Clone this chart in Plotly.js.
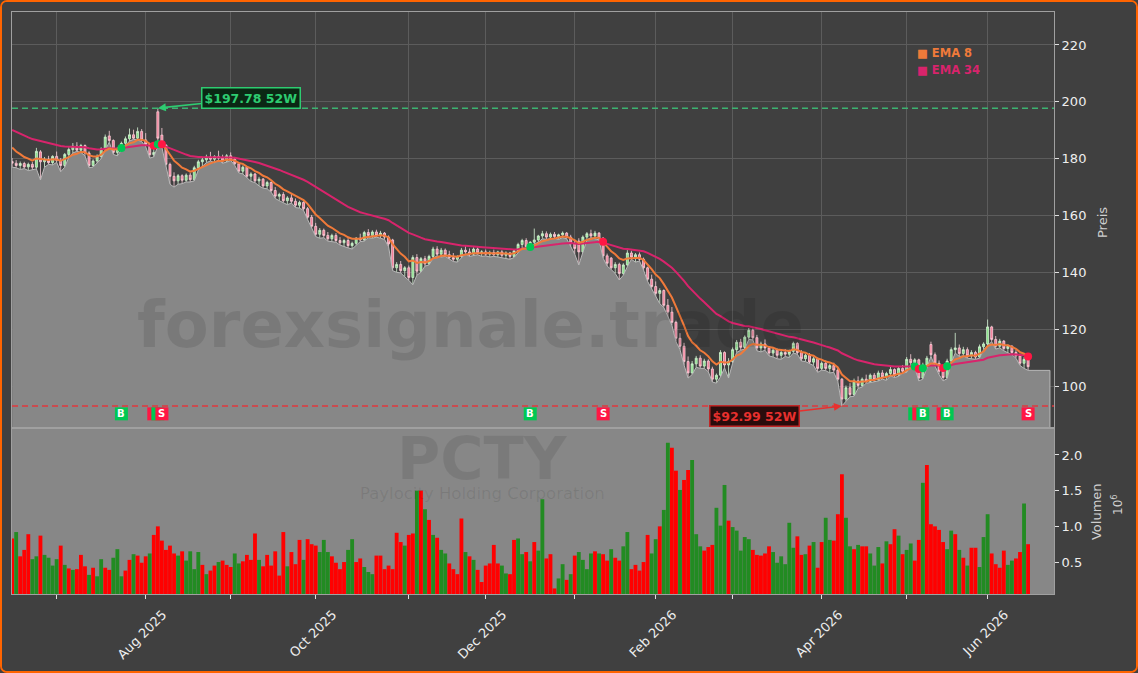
<!DOCTYPE html>
<html><head><meta charset="utf-8">
<script src="https://cdn.plot.ly/plotly-3.0.1.min.js"></script>
<style>
html,body{margin:0;padding:0;background:#404040;}
#wrap{width:1138px;height:673px;box-sizing:border-box;border:2px solid #ff6400;border-radius:7px;overflow:hidden;background:#404040;}
#chart{width:1134px;height:669px;}
</style></head><body><div id="wrap"><div id="chart"></div></div>
<script>
// ---- data (trading-day index 0 = 2025-06-13 ... 251 = 2026-06-15) ----
const open = [
179.0,178.4,177.6,178.3,177.1,178.0,177.0,182.4,178.9,179.8,
178.6,180.8,179.4,177.6,181.5,183.2,184.4,183.0,184.6,182.0,
177.6,179.2,180.8,183.4,188.0,186.4,182.2,183.6,185.4,187.0,
188.4,187.2,189.6,186.6,185.0,181.4,196.5,188.3,184.8,178.0,
173.8,172.2,174.0,172.4,174.2,172.6,176.8,178.9,179.6,180.6,
179.8,180.8,180.2,179.2,181.0,179.8,178.2,175.6,177.0,173.8,
174.6,172.2,172.8,170.4,171.6,168.8,166.8,167.4,165.2,166.2,
165.0,163.6,164.6,162.4,159.4,156.2,153.4,154.8,153.0,151.8,
153.0,151.2,150.4,151.2,149.4,150.2,152.0,151.4,154.0,153.0,
154.2,153.0,153.8,152.4,151.4,141.6,142.8,140.6,141.6,138.2,
145.2,140.4,144.8,143.0,145.6,148.2,146.4,147.8,146.2,145.2,
144.6,145.6,147.8,147.2,146.4,148.2,146.8,147.2,146.4,147.0,
146.2,147.2,146.0,146.8,145.6,147.6,149.8,151.2,149.0,150.6,
151.4,152.8,153.6,152.4,153.4,152.6,153.2,153.8,152.4,150.2,
151.0,147.2,152.4,153.6,152.8,153.8,152.0,145.8,145.0,141.6,
142.8,139.6,142.6,146.8,145.4,146.2,144.6,141.6,137.6,135.0,
132.6,133.6,128.4,126.0,122.4,116.8,114.0,108.6,104.6,107.8,
109.8,107.0,108.8,106.0,102.4,103.8,111.8,107.4,108.6,112.8,
115.4,113.6,117.2,119.6,117.0,113.4,114.8,113.4,111.6,112.6,
110.8,111.8,111.2,112.2,115.0,111.8,109.6,110.8,108.4,109.6,
106.2,108.0,106.2,107.2,105.6,102.4,95.4,99.4,97.0,101.8,
100.2,102.4,101.6,103.8,102.2,104.6,103.2,104.4,105.8,104.0,
106.2,105.2,109.4,108.2,109.2,102.8,107.4,114.6,111.0,108.0,
105.2,103.0,108.8,112.8,113.4,111.4,112.8,110.6,111.8,110.2,
113.8,114.8,120.8,116.4,114.0,115.8,113.2,114.0,111.8,110.6,
108.0,109.4];
const high = [
180.2,179.5,179.0,178.9,178.6,178.8,183.8,183.0,180.6,181.0,
181.2,182.5,180.2,182.0,184.0,185.5,185.8,185.2,185.0,182.6,
179.8,181.5,184.0,188.5,189.8,186.8,184.0,186.0,187.8,190.6,
190.2,191.0,190.4,189.0,185.6,183.6,197.78,190.8,185.0,178.6,
175.2,174.6,174.5,174.8,175.0,177.5,179.6,180.6,181.4,182.4,
181.2,182.8,181.4,181.6,182.2,180.6,178.8,177.6,177.4,175.2,
175.0,173.6,173.2,172.2,172.0,170.0,168.0,168.2,166.8,167.8,
166.0,165.2,165.0,163.0,160.2,157.4,155.6,155.4,154.2,153.6,
153.8,152.4,151.8,152.0,150.8,152.4,153.6,154.6,155.2,154.8,
155.0,154.6,154.2,153.0,151.8,143.6,144.0,142.2,142.4,146.0,
146.4,145.4,145.8,146.2,149.0,149.2,148.6,148.4,147.6,146.8,
146.0,148.6,149.2,148.4,148.8,148.8,147.8,148.0,147.6,148.0,
147.6,147.8,147.4,147.2,148.2,150.4,151.8,152.0,151.0,155.4,
153.2,154.6,154.4,154.0,154.2,153.6,154.4,154.2,153.2,151.6,
152.0,153.0,154.2,155.0,154.6,154.2,152.4,146.6,145.4,143.6,
143.4,143.2,147.8,147.6,146.8,147.0,145.2,142.0,139.2,136.8,
134.4,134.0,130.6,127.8,123.0,118.6,115.2,110.4,108.8,110.6,
110.8,109.6,109.4,106.8,104.4,112.6,112.2,109.8,113.6,116.2,
116.6,117.8,120.4,120.2,118.0,115.6,116.4,114.0,113.4,113.2,
112.6,113.0,112.8,115.6,115.4,112.6,111.4,111.6,110.2,110.0,
108.6,109.0,107.8,108.2,106.4,102.8,100.2,101.0,102.6,103.4,
103.0,104.0,104.4,104.6,105.4,105.6,105.0,106.8,106.2,106.8,
107.4,110.2,111.2,109.8,109.6,108.2,110.6,115.6,111.8,109.0,
106.2,109.6,113.6,118.7,114.6,113.8,113.6,112.6,112.4,114.6,
115.4,123.4,121.2,117.6,116.6,116.2,114.6,114.4,112.6,111.4,
110.2,109.8];
const low = [
177.0,176.8,176.2,176.5,175.8,176.0,176.4,172.5,177.0,178.0,
177.8,178.7,175.4,177.0,180.5,182.0,182.6,182.2,181.0,176.8,
177.0,178.5,180.0,183.0,185.8,181.5,181.0,183.0,184.8,186.2,
186.8,186.6,186.0,184.2,180.2,180.6,184.5,184.0,177.5,171.0,
170.0,171.0,171.2,171.8,171.8,172.2,176.0,177.2,178.6,179.2,
178.6,179.6,178.4,178.8,179.4,177.6,175.0,174.6,173.2,172.0,
171.6,170.4,169.6,169.4,168.2,166.0,165.2,164.6,163.8,164.4,
162.8,162.6,161.8,158.6,155.4,152.6,152.0,152.2,151.0,150.8,
150.6,149.6,149.0,148.6,148.2,149.4,150.8,151.0,152.2,152.0,
152.4,152.0,151.6,149.0,140.6,140.0,139.8,138.4,137.2,135.6,
139.0,140.0,142.2,142.6,145.0,145.8,145.4,145.6,144.6,143.8,
143.6,145.0,146.6,145.6,146.0,146.2,145.6,145.8,145.4,145.6,
145.4,145.2,145.0,144.6,145.2,147.0,148.6,148.4,148.2,150.0,
150.6,151.8,151.6,151.8,152.0,151.6,152.2,151.8,149.0,146.4,
142.6,146.8,151.4,152.2,151.8,151.4,145.0,142.2,141.0,139.6,
137.3,139.0,142.0,144.6,143.6,144.0,140.8,136.8,134.2,131.4,
129.0,127.6,124.2,121.4,115.6,112.8,107.4,102.8,104.0,106.6,
106.2,106.2,105.0,101.4,101.0,103.2,106.4,102.8,108.0,111.8,
112.6,113.0,116.4,116.2,112.4,112.0,112.6,110.6,110.2,109.6,
109.4,110.4,110.0,111.6,111.2,108.8,108.6,107.8,107.2,104.8,
105.6,105.4,104.6,104.8,101.6,92.99,94.6,96.2,96.4,99.2,
99.6,101.0,101.2,101.4,101.8,102.4,102.0,103.6,103.0,103.4,
104.6,104.8,107.6,106.6,101.8,102.4,106.8,110.4,107.0,104.0,
101.8,102.6,108.2,111.6,110.4,110.6,109.8,109.6,109.4,109.8,
112.8,114.2,115.6,113.0,113.4,112.4,111.6,111.0,109.8,107.2,
106.2,105.5];
const close = [
178.4,177.6,178.3,177.1,178.0,177.0,182.6,178.9,179.8,178.6,
180.8,179.4,177.6,181.5,183.2,184.4,183.0,184.6,182.0,177.6,
179.2,180.8,183.4,187.6,186.4,182.2,183.6,185.4,187.0,188.4,
187.2,189.6,186.6,185.0,181.4,182.2,187.2,184.8,178.0,173.8,
172.2,174.0,172.4,174.2,172.6,176.8,178.9,179.6,180.6,179.8,
180.8,180.2,179.2,181.0,179.8,178.2,175.6,177.0,173.8,174.6,
172.2,172.8,170.4,171.6,168.8,166.8,167.4,165.2,166.2,165.0,
163.6,164.6,162.4,159.4,156.2,153.4,154.8,153.0,151.8,153.0,
151.2,150.4,151.2,149.4,150.2,152.0,151.4,154.0,153.0,154.2,
153.0,153.8,152.4,150.0,141.6,142.8,140.6,141.6,138.2,145.2,
140.4,144.8,143.0,145.6,148.2,146.4,147.8,146.2,145.2,144.6,
145.6,147.8,147.2,146.4,148.2,146.8,147.2,146.4,147.0,146.2,
147.2,146.0,146.8,145.6,147.6,149.8,151.2,149.0,150.6,151.4,
152.8,153.6,152.4,153.4,152.6,153.2,153.8,152.4,150.2,148.4,
147.2,152.4,153.6,152.8,153.8,152.0,145.8,143.2,141.6,142.8,
139.6,142.6,146.8,145.4,146.2,144.6,141.6,137.6,135.0,132.6,
133.6,128.4,126.0,122.4,116.8,114.0,108.6,104.6,107.8,109.8,
107.0,108.8,106.0,102.4,103.8,111.8,107.4,108.6,112.8,115.4,
113.6,117.2,119.6,117.0,113.4,114.8,113.4,111.6,112.6,110.8,
111.8,111.2,112.2,115.0,111.8,109.6,110.8,108.4,109.6,106.2,
108.0,106.2,107.2,105.6,102.4,95.4,99.4,97.0,101.8,100.2,
102.4,101.6,103.8,102.2,104.6,103.2,104.4,105.8,104.0,106.2,
105.2,109.4,108.2,109.2,102.8,107.4,109.8,111.0,108.0,105.2,
103.0,108.8,112.8,113.4,111.4,112.8,110.6,111.8,110.2,113.8,
114.8,120.8,116.4,114.0,115.8,113.2,114.0,111.8,110.6,108.0,
109.4,106.8];
// volume in millions
const volume = [
0.83,0.92,0.58,0.67,0.89,0.54,0.58,0.87,0.60,0.56,
0.45,0.54,0.73,0.46,0.41,0.39,0.40,0.60,0.44,0.32,
0.42,0.30,0.54,0.42,0.39,0.56,0.68,0.30,0.38,0.53,
0.61,0.59,0.49,0.58,0.62,0.88,1.00,0.80,0.67,0.73,
0.62,0.59,0.65,0.52,0.65,0.40,0.64,0.46,0.33,0.38,
0.45,0.50,0.52,0.46,0.43,0.62,0.48,0.51,0.60,0.53,
0.90,0.53,0.44,0.60,0.45,0.65,0.31,0.92,0.44,0.64,
0.47,0.81,0.53,0.82,0.75,0.73,0.64,0.81,0.64,0.58,
0.49,0.40,0.50,0.67,0.82,0.50,0.55,0.43,0.36,0.33,
0.59,0.59,0.40,0.45,0.40,0.91,0.78,0.73,0.88,0.90,
1.50,1.50,1.24,1.09,0.88,0.84,0.67,0.62,0.48,0.40,
0.33,1.11,0.64,0.58,0.53,0.39,0.22,0.45,0.48,0.74,
0.48,0.45,0.34,0.33,0.81,0.83,0.61,0.64,0.51,0.78,
0.66,1.38,0.55,0.61,0.13,0.27,0.47,0.25,0.33,0.59,
0.64,0.53,0.40,0.62,0.65,0.62,0.61,0.52,0.68,0.56,
0.52,0.72,0.92,0.40,0.46,0.38,0.50,0.88,0.62,0.82,
1.00,1.23,2.17,2.10,1.78,1.51,1.65,1.79,1.93,0.89,
0.72,0.66,0.71,0.74,1.26,1.01,1.58,1.08,0.99,0.94,
0.66,0.85,0.82,0.67,0.60,0.59,0.62,0.72,0.64,0.49,
0.58,0.47,1.05,0.70,0.86,0.60,0.61,0.73,0.78,0.42,
0.78,1.12,0.81,0.80,1.17,1.73,1.12,0.72,0.68,0.74,
0.72,0.72,0.62,0.45,0.71,0.48,0.79,0.75,0.96,0.87,
0.61,0.67,0.76,0.52,0.81,1.61,1.86,1.03,1.00,0.95,
0.78,0.68,0.94,0.89,0.67,0.56,0.45,0.70,0.70,0.43,
0.85,1.17,0.62,0.47,0.42,0.66,0.46,0.52,0.55,0.64,
1.32,0.75];
// volume bar direction as drawn (G = up, R = down)
const volumeDir =
"RGRRRGGRGG"+"GGRGRGRRRG"+"RGGRRGGGRR"+"GRRRGRRRRR"+"RGRGGGGRGR"+
"RGRRRGGRRR"+"RGRRRRRRGR"+"RRGRRRGGGR"+"RRRGGRRGGG"+"RRRRRRRGRR"+
"GRGRGRGGRR"+"RRGRGRRRRR"+"RGGRRGGRGR"+"GGRRRGGRGR"+"GGGGRGRRGR"+
"RGGRRRRRGG"+"RGGRRGRRGG"+"GRRRGGGRGG"+"GGGRRRRRGG"+"GGGGRRGRGR"+
"RGGRRRGGRG"+"RRGGGRGRRG"+"RGGRRGRRRR"+"RGGRGRGRRG"+"GGRRRRGGRR"+"GR";

const monthTickIdx = [11,33,54,75,98,117,139,159,178,200,221,241];
const monthTickText = ['','Aug 2025','','Oct 2025','','Dec 2025','','Feb 2026','','Apr 2026','','Jun 2026'];

const signalIdx  = [27,35,36,37,128,146,223,224,225,230,231,251];
const signalType = ['B','S','B','S','B','S','B','S','B','S','B','S'];
const signalLevel = 90.2;

const ema8Seed = 185.5, ema34Seed = 190.8;   // EMA values entering the window
const ticker = 'PCTY', company = 'Paylocity Holding Corporation', watermark = 'forexsignale.trade';

// ---- derived ----
const N = close.length;
const idx = close.map((_, i) => i);
function ema(src, period, seed){ const a = 2/(period+1); let p = seed; return src.map(v => (p = a*v + (1-a)*p)); }
const ema8 = ema(close, 8, ema8Seed);
const ema34 = ema(close, 34, ema34Seed);
const hi52 = Math.max(...high), lo52 = Math.min(...low);
const hiIdx = high.indexOf(hi52), loIdx = low.indexOf(lo52);

const GREEN = '#00c853', RED = '#ff1744';
const fillExt = 5.4;
const xRange = [-0.03, 257.4];
// a signal box is covered by the next one when they are closer than 3 bars
const labelShown = signalIdx.map((v, k) => k === signalIdx.length - 1 || signalIdx[k+1] - v >= 3);

const traces = [
  { type:'scatter', mode:'lines', x: idx.concat([N-1+fillExt, N-1+fillExt]), y: low.concat([low[N-1], 0]),
    fill:'tozeroy', fillcolor:'#878787', line:{color:'#b9b9b9', width:1}, xaxis:'x', yaxis:'y', hoverinfo:'skip' },
  { type:'candlestick', x: idx, open, high, low, close, xaxis:'x', yaxis:'y',
    increasing:{line:{color:'#d5f5d5', width:0.8}, fillcolor:'#86e486'},
    decreasing:{line:{color:'#ffd2dc', width:0.8}, fillcolor:'#f27a96'},
    whiskerwidth:0, hoverinfo:'skip' },
  { type:'scatter', mode:'lines', x: idx, y: ema34, line:{color:'#d8246c', width:2}, xaxis:'x', yaxis:'y', hoverinfo:'skip' },
  { type:'scatter', mode:'lines', x: idx, y: ema8, line:{color:'#f07a3a', width:2}, xaxis:'x', yaxis:'y', hoverinfo:'skip' },
  { type:'scatter', mode:'markers', x: signalIdx, y: signalIdx.map(i => ema8[i]),
    marker:{size:8, color: signalType.map(t => t==='B'?GREEN:RED)}, xaxis:'x', yaxis:'y', hoverinfo:'skip' },
  { type:'scatter', mode:'markers', x: signalIdx, y: signalIdx.map(() => signalLevel),
    marker:{symbol:'square', size:13, color: signalType.map(t => t==='B'?GREEN:RED), line:{width:0}},
    xaxis:'x', yaxis:'y', hoverinfo:'skip' },
  { type:'bar', x: idx, y: volume, width:0.95, marker:{color: idx.map(i => volumeDir[i]==='G' ? '#228b22' : '#ff0000'), line:{width:0}},
    xaxis:'x2', yaxis:'y2', hoverinfo:'skip' }
];

const annotations = [
  { xref:'paper', yref:'paper', x:0.440, y:0.462, text:'<b>'+watermark+'</b>', showarrow:false,
    font:{family:'DejaVu Sans', size:64, color:'rgba(0,0,0,0.10)'}, xanchor:'center', yanchor:'middle' },
  { xref:'paper', yref:'paper', x:0.452, y:0.232, text:'<b>'+ticker+'</b>', showarrow:false,
    font:{family:'DejaVu Sans', size:59, color:'rgba(0,0,0,0.09)'}, xanchor:'center', yanchor:'middle' },
  { xref:'paper', yref:'paper', x:0.452, y:0.172, text:company, showarrow:false,
    font:{family:'DejaVu Sans', size:16.5, color:'rgba(0,0,0,0.09)'}, xanchor:'center', yanchor:'middle' },
  { xref:'paper', yref:'paper', x:0.8666, y:0.9296, text:'<b>■ EMA 8</b>', showarrow:false,
    font:{family:'DejaVu Sans', size:11.5, color:'#f07a3a'}, xanchor:'left', yanchor:'middle' },
  { xref:'paper', yref:'paper', x:0.8666, y:0.9003, text:'<b>■ EMA 34</b>', showarrow:false,
    font:{family:'DejaVu Sans', size:11.5, color:'#d8246c'}, xanchor:'left', yanchor:'middle' },
  { xref:'paper', yref:'paper', x:1.046, y:0.639, text:'Preis', showarrow:false, textangle:-90,
    font:{family:'DejaVu Sans', size:13, color:'#cfcfcf'}, xanchor:'center', yanchor:'middle' },
  { xref:'paper', yref:'paper', x:1.0413, y:0.1409, text:'Volumen', showarrow:false, textangle:-90,
    font:{family:'DejaVu Sans', size:13, color:'#cfcfcf'}, xanchor:'center', yanchor:'middle' },
  { xref:'paper', yref:'paper', x:1.0605, y:0.153, text:'10<sup>6</sup>', showarrow:false, textangle:-90,
    font:{family:'DejaVu Sans', size:12, color:'#cfcfcf'}, xanchor:'center', yanchor:'middle' },
  { xref:'x', yref:'y', x: hiIdx, y: hi52, ax: 93, ay: -10, text:'<b>$'+hi52.toFixed(2)+' 52W</b>',
    showarrow:true, arrowhead:2, arrowsize:1, arrowwidth:1.6, arrowcolor:'#2ecc71',
    font:{family:'DejaVu Sans', size:12.5, color:'#2ecc71'}, bgcolor:'#0b2714', bordercolor:'#2ecc71', borderwidth:1.5, borderpad:2 },
  { xref:'x', yref:'y', x: loIdx, y: lo52, ax: -87, ay: 10.5, text:'<b>$'+lo52.toFixed(2)+' 52W</b>',
    showarrow:true, arrowhead:2, arrowsize:1, arrowwidth:1.6, arrowcolor:'#e8302e',
    font:{family:'DejaVu Sans', size:12.5, color:'#e8302e'}, bgcolor:'#2a0c0c', bordercolor:'#c02626', borderwidth:1.5, borderpad:2 }
];
signalIdx.forEach((i, k) => {
  if (!labelShown[k]) return;
  annotations.push({ xref:'x', yref:'y', x:i, y:signalLevel, text:'<b>'+signalType[k]+'</b>', showarrow:false,
    font:{family:'DejaVu Sans', size:10, color:'#ffffff'}, xanchor:'center', yanchor:'middle' });
});

const axLine = '#a0a0a0';
const layout = {
  width:1134, height:669,
  margin:{l:10, r:82, t:10, b:77},
  paper_bgcolor:'#404040', plot_bgcolor:'#404040',
  showlegend:false, hovermode:false,
  font:{family:'DejaVu Sans', color:'#eeeeee', size:13},
  xaxis:{domain:[0,1], anchor:'y', range:xRange, tickvals:monthTickIdx, showticklabels:false, ticks:'',
    showgrid:true, gridcolor:'#5c5c5c', gridwidth:1, zeroline:false, showline:true, mirror:true, linecolor:axLine,
    rangeslider:{visible:false}},
  yaxis:{domain:[0.2852,1], anchor:'x', side:'right', range:[85.22,231.61], tickvals:[100,120,140,160,180,200,220],
    showgrid:true, gridcolor:'#5c5c5c', zeroline:false, ticks:'outside', ticklen:4, tickcolor:'#e0e0e0',
    showline:true, mirror:true, linecolor:axLine, tickfont:{size:13, color:'#eeeeee'}},
  xaxis2:{domain:[0,1], anchor:'y2', range:xRange, tickvals:monthTickIdx, ticktext:monthTickText, tickangle:-45,
    ticklabelshift:17, ticklabelstandoff:3,
    ticks:'outside', ticklen:4, tickcolor:'#e0e0e0', showgrid:false, zeroline:false, showline:true, mirror:true,
    linecolor:axLine, tickfont:{size:13, color:'#eeeeee'}},
  yaxis2:{domain:[0,0.2852], anchor:'x2', side:'right', range:[0.052,2.378], tickvals:[0.5,1,1.5,2],
    ticktext:['0.5','1.0','1.5','2.0'], showgrid:false, zeroline:false, ticks:'outside', ticklen:4, tickcolor:'#e0e0e0',
    showline:true, mirror:true, linecolor:axLine, tickfont:{size:13, color:'#eeeeee'}},
  shapes:[
    { type:'rect', xref:'x2 domain', yref:'y2 domain', x0:0, x1:1, y0:0, y1:1, fillcolor:'#878787', line:{width:0}, layer:'below' },
    { type:'line', xref:'paper', yref:'y', x0:0, x1:1, y0:hi52, y1:hi52, line:{color:'#3cb371', width:1.5, dash:'6px,4px'} },
    { type:'line', xref:'paper', yref:'y', x0:0, x1:1, y0:lo52, y1:lo52, line:{color:'#e0393e', width:1.5, dash:'6px,4px'} }
  ],
  annotations
};
Plotly.newPlot('chart', traces, layout, {displayModeBar:false, staticPlot:true});
</script></body></html>
